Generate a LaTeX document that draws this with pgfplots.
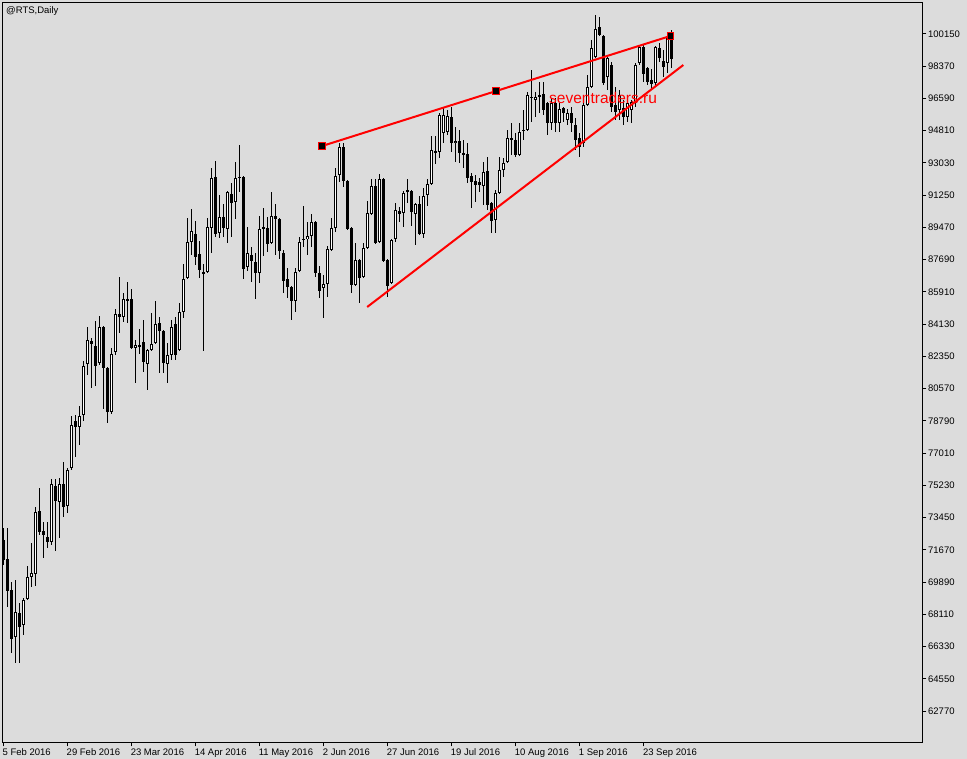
\documentclass[border=0pt]{standalone}
\usepackage{fontspec}
\setmainfont{Liberation Sans}
\usepackage{pgfplots}
\usepackage{pgfplotstable}
\pgfplotsset{compat=1.18}
\definecolor{bg}{RGB}{220,220,220}
\pgfplotstableread{
i o h l c
0 72219 72881 70839 71115
1 71170 72881 68521 69404
2 69459 69901 65981 66754
3 66865 70011 65429 68245
4 68189 68741 65429 67417
5 67527 69017 66975 68907
6 68962 70784 68907 70177
7 70177 72053 69625 70397
8 70342 74041 69680 73765
9 73820 75089 72495 72661
10 72716 73213 71225 72495
11 72385 73213 71777 72109
12 72109 75586 71943 75310
13 75200 75586 71612 74372
14 74317 75641 72329 75310
15 75310 76525 73489 74041
16 74096 76193 73709 76083
17 76193 79064 76083 78567
18 78788 79119 76801 78457
19 78457 79616 77463 79064
20 79119 82100 78788 81824
21 81934 83977 81327 83259
22 83204 83369 80609 83038
23 82928 84308 80720 81824
24 81989 84584 81879 83977
25 83977 84032 79450 81713
26 81713 81769 78677 79285
27 79285 82817 79174 82486
28 82597 84970 82431 84694
29 84694 86737 83645 84529
30 84529 85853 84253 85522
31 85522 86461 84197 85467
32 85522 86074 82762 82817
33 82817 83259 80885 82983
34 82873 83866 82486 82983
35 83149 84363 81493 82045
36 81934 82762 80499 82707
37 82707 84749 82652 83038
38 83093 85412 83038 84142
39 84197 84529 81437 83756
40 83756 83811 81437 81989
41 81934 83093 80885 82431
42 82431 84363 82155 83977
43 84142 84529 82155 82431
44 82707 85301 82652 84805
45 84805 87454 84473 86626
46 86681 89993 86626 88669
47 88669 90490 87951 89276
48 89110 89828 87399 87841
49 88006 88724 86681 87123
50 87013 87454 82652 86957
51 87013 89993 86957 89497
52 89441 92753 88061 92201
53 92257 93140 88945 89110
54 89165 91263 88889 90049
55 90049 90766 88945 89441
56 89386 91484 88613 91429
57 91318 91925 88945 90821
58 90877 93085 89938 92201
59 92201 94023 91429 92257
60 92257 92312 86626 87178
61 87289 89497 87068 88061
62 87951 88393 86461 87620
63 87565 88061 85522 86957
64 86957 90104 86405 89386
65 89497 90545 87896 89441
66 89441 90049 88117 88558
67 88613 91429 88558 90104
68 90104 90766 87951 89938
69 89938 89993 87730 88172
70 88061 88227 85853 86516
71 86626 87233 85577 86185
72 86185 86240 84363 85412
73 85412 87233 84805 87013
74 87068 88945 87013 88669
75 88834 90656 88393 88779
76 88834 89773 87951 89000
77 89000 90214 88393 89773
78 89773 89828 86737 86957
79 86957 87344 85577 85964
80 86129 86847 84473 86350
81 86350 88448 85633 88282
82 88227 89993 88172 89441
83 89441 92753 89221 92312
84 92367 94133 91981 93913
85 93913 94133 91705 92036
86 92036 92091 89331 89386
87 89441 89497 85853 86295
88 86295 88613 86240 87675
89 87675 87730 85301 86681
90 86737 88613 86681 88337
91 88337 90932 88282 90269
92 90214 92146 90159 91760
93 91760 92146 88558 88613
94 88669 92422 88613 92146
95 92146 92201 87565 87620
96 87675 87730 85633 86240
97 86405 88834 86350 88779
98 88834 90821 88669 90435
99 90380 90601 89773 90214
100 90269 91484 89497 91373
101 91429 92146 90821 91539
102 91484 91539 89552 90325
103 90214 90821 88503 90766
104 90766 91208 89055 89110
105 89110 91649 88889 91208
106 91263 92146 90656 91870
107 91870 94520 91815 93747
108 93692 94520 92974 93637
109 93637 95789 93305 95679
110 94685 96121 94133 95679
111 94741 95955 94575 95624
112 95569 96121 93637 94133
113 94133 95017 93085 94244
114 94244 94851 93029 93581
115 93581 94299 92753 93526
116 93526 94133 91925 92201
117 92312 92477 90545 91981
118 92036 92367 90877 91815
119 91981 92201 91429 91815
120 91760 93085 90711 92533
121 92588 93361 90435 90711
122 90821 90877 89165 89828
123 89883 91539 89165 91373
124 91373 93361 91318 92643
125 92643 93305 92257 93029
126 93085 94851 93029 94409
127 94354 95237 93471 94409
128 94299 94685 93361 93471
129 93471 95237 93416 94741
130 94796 95955 94299 94851
131 94851 96949 94796 96783
132 96673 98163 95293 96617
133 96507 96949 95569 96673
134 96783 97501 95789 96728
135 96838 97501 95679 95955
136 96341 96397 94575 95237
137 95237 96617 94851 96341
138 96341 96617 94741 95237
139 95237 96341 94741 96010
140 96065 96121 95293 95789
141 95403 96010 95127 95789
142 95789 96121 94741 95237
143 95127 95513 93747 94299
144 94409 94685 93361 93913
145 94133 96507 93913 96231
146 96231 97887 96176 97225
147 97225 99819 97169 99377
148 98881 101199 98825 100426
149 100537 101089 100040 100095
150 100040 100095 97335 97445
151 97777 98991 97059 98825
152 98439 98605 95845 96121
153 96231 97225 95403 95845
154 95955 97059 95403 96783
155 96065 96507 95127 95569
156 95569 96673 95293 96341
157 95955 96507 95237 96397
158 96341 98549 96121 98439
159 98549 99543 98439 99433
160 99433 99543 97501 97942
161 98273 98329 97335 97501
162 97611 98218 97059 97390
163 97445 99488 97335 99433
164 99377 99653 98605 98825
165 98660 99267 97777 98329
166 98549 100095 97997 99929
167 100095 100371 98273 98770
}\data
\begin{document}
\begin{tikzpicture}[x=1pt,y=1pt]
\fill[bg] (0,0) rectangle (967,759);
\begin{axis}[
  at={(2.5pt,16.5pt)}, anchor=south west,
  scale only axis, width=919.5pt, height=740pt,
  xmin=-0.125, xmax=229.75, ymin=61041, ymax=101889,
  scaled x ticks=false, scaled y ticks=false,
  axis line style={black, line width=1pt},
  tick style={black, line width=1pt},
  tick align=outside, major tick length=4pt,
  xtick pos=bottom, ytick pos=right,
  xtick={0,16,32,48,64,80,96,112,128,144,160},
  xticklabels={5 Feb 2016,29 Feb 2016,23 Mar 2016,14 Apr 2016,11 May 2016,2 Jun 2016,27 Jun 2016,19 Jul 2016,10 Aug 2016,1 Sep 2016,23 Sep 2016},
  ytick={62770,64550,66330,68110,69890,71670,73450,75230,77010,78790,80570,82350,84130,85910,87690,89470,91250,93030,94810,96590,98370,100150},
  yticklabels={62770,64550,66330,68110,69890,71670,73450,75230,77010,78790,80570,82350,84130,85910,87690,89470,91250,93030,94810,96590,98370,100150},
  ticklabel style={font=\fontsize{9.5}{11}\selectfont, text=black},
  xticklabel style={anchor=north west, inner xsep=0pt, inner ysep=1pt, xshift=-0.5pt, yshift=-1pt},
  yticklabel style={anchor=west, inner xsep=0pt, xshift=1.5pt},
]
% wicks
\addplot[draw=none, mark=none, forget plot,
  error bars/.cd, y dir=both, y explicit, error mark=none,
  error bar style={draw=black, line width=1pt}]
  table[x=i, y expr={(\thisrow{h}+\thisrow{l})/2}, y error expr={(\thisrow{h}-\thisrow{l})/2}]{\data};
% bodies
\addplot[draw=none, mark=none, forget plot,
  error bars/.cd, y dir=both, y explicit, error mark=none,
  error bar style={draw=black, line width=3pt}]
  table[x=i, y expr={(\thisrow{o}+\thisrow{c})/2}, y error expr={max(abs(\thisrow{c}-\thisrow{o})/2,27.6)}]{\data};
% white interior of rising candles
\addplot[draw=none, mark=none, forget plot,
  error bars/.cd, y dir=both, y explicit, error mark=none,
  error bar style={draw=white, line width=1pt}]
  table[x=i, y expr={(\thisrow{o}+\thisrow{c})/2}, y error expr={(\thisrow{c}>\thisrow{o})*max(abs(\thisrow{c}-\thisrow{o})/2-55.2,0)}]{\data};
% trend lines
\addplot[red, line width=2pt, mark=square*, mark size=3.3pt,
  mark options={fill=black, draw=red, line width=1pt, solid}]
  coordinates {(79.75,93968) (123.25,97004) (166.75,100040)};
\addplot[red, line width=2pt, mark=none]
  coordinates {(91,85080) (170,98439)};
\end{axis}
\node[anchor=base west, text=red, font=\fontsize{15.5}{16}\selectfont, inner sep=0pt] at (549,655) {seventraders.ru};
\node[anchor=north west, inner sep=0pt, font=\fontsize{9.5}{11}\selectfont] at (6,753) {@RTS,Daily};
\end{tikzpicture}
\end{document}
